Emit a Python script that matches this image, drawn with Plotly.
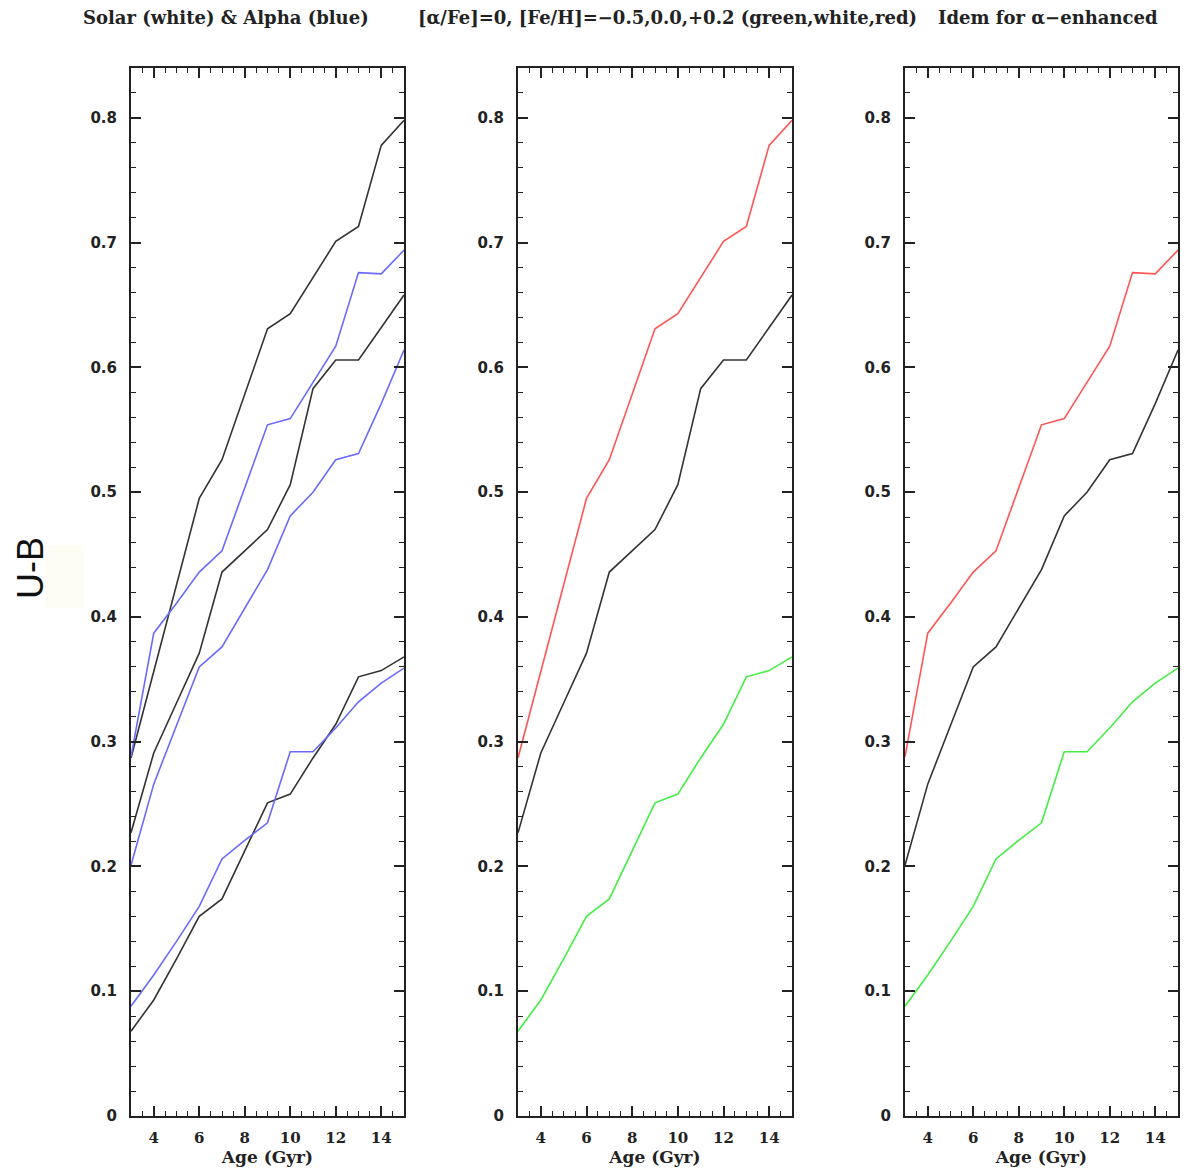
import plotly.graph_objects as go

# Age grid (Gyr)
ages = [3, 4, 5, 6, 7, 8, 9, 10, 11, 12, 13, 14, 15]

# U-B colours, solar-scaled models ([alpha/Fe]=0)
solar_feh_p02 = [0.287, 0.356, 0.425, 0.495, 0.526, 0.578, 0.631, 0.643, 0.672, 0.701, 0.713, 0.778, 0.798]
solar_feh_00 = [0.227, 0.291, 0.331, 0.371, 0.436, 0.453, 0.470, 0.506, 0.583, 0.606, 0.606, 0.632, 0.658]
solar_feh_m05 = [0.068, 0.093, 0.126, 0.160, 0.174, 0.213, 0.251, 0.258, 0.287, 0.314, 0.352, 0.357, 0.368]

# U-B colours, alpha-enhanced models
alpha_feh_p02 = [0.288, 0.387, 0.411, 0.436, 0.453, 0.503, 0.554, 0.559, 0.588, 0.617, 0.676, 0.675, 0.694]
alpha_feh_00 = [0.201, 0.266, 0.313, 0.360, 0.376, 0.407, 0.438, 0.481, 0.500, 0.526, 0.531, 0.571, 0.614]
alpha_feh_m05 = [0.088, 0.113, 0.140, 0.168, 0.206, 0.221, 0.235, 0.292, 0.292, 0.311, 0.332, 0.347, 0.359]

panel_titles = [
    "Solar (white) & Alpha (blue)",
    "[\u03b1/Fe]=0, [Fe/H]=\u22120.5,0.0,+0.2 (green,white,red)",
    "Idem for \u03b1\u2212enhanced",
]
y_title = "U-B"
x_title = "Age (Gyr)"

BLACK = "#333333"
BLUE = "#6a6aff"
RED = "#ff5555"
GREEN = "#44ee44"
LW = 1.6

W, H = 1184, 1171
# panel boxes in pixels (left, right), shared top/bottom
panels_px = [(131, 404), (518, 792), (905, 1178)]
top_px, bot_px = 68, 1116

fig = go.Figure()


def add_line(ax, y, color):
    fig.add_trace(go.Scatter(
        x=ages, y=y, mode="lines", line=dict(color=color, width=LW),
        xaxis="x" if ax == 1 else f"x{ax}", yaxis="y" if ax == 1 else f"y{ax}",
        showlegend=False, hoverinfo="skip",
    ))


# Panel 1: solar (dark) and alpha-enhanced (blue)
for s in (solar_feh_p02, solar_feh_00, solar_feh_m05):
    add_line(1, s, BLACK)
for s in (alpha_feh_p02, alpha_feh_00, alpha_feh_m05):
    add_line(1, s, BLUE)

# Panel 2: solar-scaled by metallicity
add_line(2, solar_feh_p02, RED)
add_line(2, solar_feh_00, BLACK)
add_line(2, solar_feh_m05, GREEN)

# Panel 3: alpha-enhanced by metallicity
add_line(3, alpha_feh_p02, RED)
add_line(3, alpha_feh_00, BLACK)
add_line(3, alpha_feh_m05, GREEN)

ydom = [1 - bot_px / H, 1 - top_px / H]
INK = "#222222"
tickfont_y = dict(family="DejaVu Sans", size=15, color=INK, weight="bold")
tickfont_x = dict(family="DejaVu Serif", size=15, color=INK, weight="bold")

layout = dict(
    width=W, height=H,
    margin=dict(l=0, r=0, t=0, b=0),
    paper_bgcolor="white", plot_bgcolor="white",
    annotations=[], shapes=[],
)

for i, (l, r) in enumerate(panels_px, start=1):
    xa = "xaxis" if i == 1 else f"xaxis{i}"
    ya = "yaxis" if i == 1 else f"yaxis{i}"
    layout[xa] = dict(
        domain=[l / W, r / W], range=[3, 15], anchor="y" if i == 1 else f"y{i}",
        automargin=False,
        showgrid=False, zeroline=False,
        showline=True, linecolor=INK, linewidth=2, mirror="ticks",
        ticks="inside", ticklen=10, tickwidth=1.5, tickcolor=INK,
        tickmode="array", tickvals=[4, 6, 8, 10, 12, 14],
        minor=dict(dtick=0.5, tick0=3, ticks="inside", ticklen=5, tickwidth=1.2, tickcolor=INK),
        tickfont=tickfont_x, ticklabelstandoff=7,
        title=dict(text=x_title, font=dict(family="DejaVu Serif", size=17, color=INK, weight="bold"), standoff=4),
    )
    layout[ya] = dict(
        domain=ydom, range=[0, 0.84], anchor="x" if i == 1 else f"x{i}",
        automargin=False,
        showgrid=False, zeroline=False,
        showline=True, linecolor=INK, linewidth=2, mirror="ticks",
        ticks="inside", ticklen=10, tickwidth=1.5, tickcolor=INK,
        tick0=0, dtick=0.1,
        minor=dict(dtick=0.02, ticks="inside", ticklen=5, tickwidth=1.2, tickcolor=INK),
        tickfont=tickfont_y, ticklabelstandoff=9,
    )

title_centers = [226, 667, 1048]
for t, cx in zip(panel_titles, title_centers):
    layout["annotations"].append(dict(
        text=t, x=cx / W, y=1 - 18 / H, xref="paper", yref="paper",
        showarrow=False, xanchor="center", yanchor="middle",
        font=dict(family="DejaVu Serif", size=18, color=INK, weight="bold"),
    ))

# faint backing box behind the U-B label
layout["shapes"].append(dict(
    type="rect", xref="paper", yref="paper",
    x0=45 / W, x1=84 / W, y0=1 - 608 / H, y1=1 - 545 / H,
    fillcolor="#fdfdf6", line=dict(width=0), layer="below",
))
layout["annotations"].append(dict(
    text=y_title, x=30 / W, y=1 - 568 / H, xref="paper", yref="paper",
    showarrow=False, xanchor="center", yanchor="middle", textangle=-90,
    font=dict(family="Liberation Sans", size=36, color="#111111"),
))

fig.update_layout(**layout)
fig.write_html("out.html")
